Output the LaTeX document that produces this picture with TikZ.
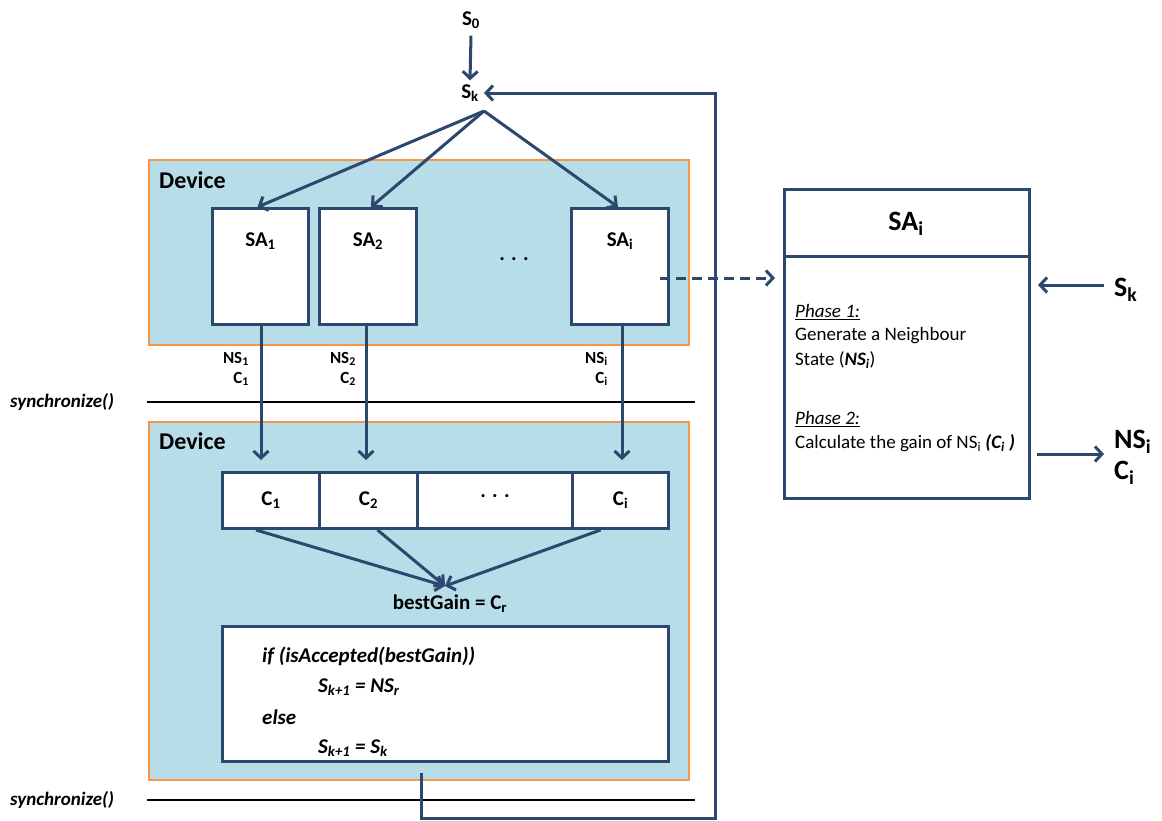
\documentclass[tikz,border=0pt]{standalone}
\usepackage{fontspec}
\setmainfont{Carlito}
\usetikzlibrary{arrows.meta}
\definecolor{navy}{RGB}{44,72,110}
\definecolor{devfill}{RGB}{183,221,232}
\definecolor{devedge}{RGB}{247,150,70}
\newcommand{\sbs}[1]{\textsubscript{#1}}
\begin{document}
\begin{tikzpicture}[x=1pt,y=-1pt,
  line/.style={draw=navy, line width=3pt},
  conn/.style={line, -{Straight Barb[length=7pt,width=15pt]}},
  device/.style={draw=devedge, fill=devfill, line width=2pt, anchor=north west, inner sep=0pt},
  wbox/.style={draw=navy, fill=white, line width=3pt, anchor=north west, inner sep=0pt},
  lbl/.style={font=\bfseries\fontsize{21}{24}\selectfont, inner sep=1pt},
  clbl/.style={font=\bfseries\fontsize{21}{24}\selectfont, inner sep=1pt},
  devlbl/.style={font=\bfseries\fontsize{24}{28}\selectfont, inner sep=1pt, anchor=west},
  small/.style={font=\bfseries\fontsize{17}{20}\selectfont, inner sep=1pt, align=right},
  body/.style={font=\fontsize{19}{22}\selectfont, anchor=west, inner sep=0pt},
  code/.style={font=\bfseries\itshape\fontsize{21}{24}\selectfont, anchor=west, inner sep=0pt},
  big/.style={font=\bfseries\fontsize{28}{31}\selectfont, inner sep=1pt},
  sync/.style={font=\bfseries\itshape\fontsize{19}{22}\selectfont, anchor=west, inner sep=0pt}]
\path[use as bounding box] (0,0) rectangle (1162,820);

% initial and current state
\node[lbl] (s0) at (471,20) {S\sbs{0}};
\node[lbl] (sk) at (470,93) {S\sbs{k}};
\coordinate (fan) at (484,111);
\draw[conn] ([yshift=-6pt]s0.south) -- ([yshift=3pt]sk.north);

% first device with the parallel SA kernels
\node[device, minimum width=540, minimum height=185] (dev1) at (148,159) {};
\node[devlbl] at (158,180) {Device};
\node[wbox, minimum width=96, minimum height=116] (sa1) at (211,207) {};
\node[wbox, minimum width=97, minimum height=116] (sa2) at (318,207) {};
\node[wbox, minimum width=97, minimum height=116] (sai) at (570,207) {};
\node[lbl] at ([yshift=-34pt]sa1.north) {SA\sbs{1}};
\node[lbl] at ([yshift=-34pt]sa2.north) {SA\sbs{2}};
\node[lbl] at ([yshift=-34pt]sai.north) {SA\sbs{i}};
\node[lbl] (dots1) at (514,259) {. . .};

\draw[conn] (fan) -- ([xshift=-3pt]sa1.north);
\draw[conn] (fan) -- ([xshift=3pt]sa2.north);
\draw[conn] (fan) -- ([xshift=-2pt]sai.north);

% synchronisation barriers
\node[sync] (sync1) at (10,402) {synchronize()};
\draw[black, line width=1.8pt] (147,402) -- (695,402);
\node[sync] (sync2) at (10,800) {synchronize()};
\draw[black, line width=1.8pt] (147,800) -- (695,800);

% second device with the reduction
\node[device, minimum width=540, minimum height=358] (dev2) at (148,421) {};
\node[devlbl] at (158,441) {Device};
\node[wbox, minimum width=97, minimum height=56] (c1) at (221,471) {};
\node[wbox, minimum width=98, minimum height=56] (c2) at (318,471) {};
\node[wbox, minimum width=155, minimum height=56] (cd) at (416,471) {};
\node[wbox, minimum width=96, minimum height=56] (ci) at (571,471) {};
\node[clbl] at (c1) {C\sbs{1}};
\node[clbl] at (c2) {C\sbs{2}};
\node[lbl] at ([yshift=4pt]cd.center) {. . .};
\node[clbl] at (ci) {C\sbs{i}};

% results passed from the kernels
\node[small, anchor=east] at (250,369) {NS\sbs{1}\\C\sbs{1}};
\node[small, anchor=east] at (357,369) {NS\sbs{2}\\C\sbs{2}};
\node[small, anchor=east] at (609,369) {NS\sbs{i}\\C\sbs{i}};
\draw[conn] (sa1.south -| 261,0) -- (261,460);
\draw[conn] (sa2.south -| 366,0) -- (366,460);
\draw[conn] (sai.south -| 622,0) -- (622,460);

\coordinate (merge) at (445,586);
\draw[conn] ([xshift=-15pt]c1.south) -- (merge);
\draw[conn] ([xshift=9pt]c2.south) -- (merge);
\draw[conn] ([xshift=-20pt]ci.south) -- (merge);
\node[lbl] (best) at (450,604) {bestGain = C\sbs{r}};

\node[wbox, minimum width=446, minimum height=135] (acc) at (221,625) {};
\node[code] at (262,656) {if (isAccepted(bestGain))};
\node[code] at (318,687) {S\sbs{k+1} = NS\sbs{r}};
\node[code] at (262,717) {else};
\node[code] at (318,748) {S\sbs{k+1} = S\sbs{k}};

% feedback to the next iteration
\coordinate (fb) at (421,773);
\coordinate (fb1) at (421,818);
\coordinate (fb2) at (715,818);
\coordinate (fb3) at (715,93);
\draw[conn] (fb) -- (fb1) -- (fb2) -- (fb3) -- ([xshift=4pt]sk.east);

% detail of one SA kernel
\node[wbox, minimum width=245, minimum height=309] (detail) at (783,188) {};
\draw[line] (detail.west |- 0,256) -- (detail.east |- 0,256);
\node[big] at (906,224) {SA\sbs{i}};
\coordinate (dstart) at (660,278);
\draw[line, dash pattern=on 10pt off 6pt, -{Straight Barb[length=7pt,width=15pt]}] (dstart) -- ([xshift=-8pt]detail.west |- dstart);
\node[body] at (795,312) {\underline{\itshape Phase 1:}};
\node[body] at (795,336) {Generate a Neighbour};
\node[body] at (795,360) {State (\textbf{\itshape NS\sbs{i}})};
\node[body] at (795,419) {\underline{\itshape Phase 2:}};
\node[body] at (795,443) {Calculate the gain of NS\sbs{i} \textbf{\itshape (C\sbs{i} )}};

\node[big, anchor=west] (skr) at (1113,290) {S\sbs{k}};
\coordinate (skin) at (1104,285);
\draw[conn] (skin) -- (1038,285);
\node[big, anchor=west, align=left] (outr) at (1113,457) {NS\sbs{i}\\C\sbs{i}};
\coordinate (outs) at (1037,454);
\draw[conn] (outs) -- (1104,454);
\end{tikzpicture}
\end{document}
